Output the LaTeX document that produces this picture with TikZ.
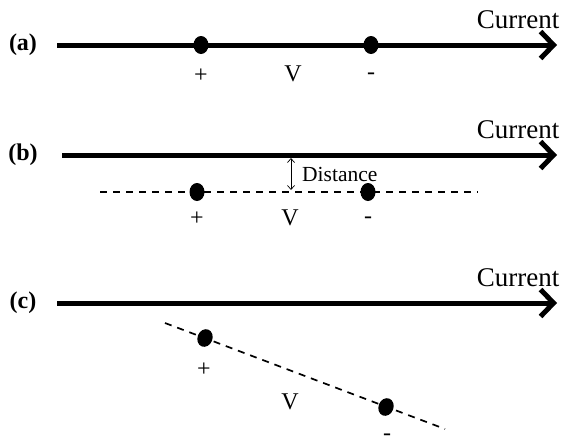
\documentclass[tikz,border=0pt]{standalone}
\usepackage{fontspec}
\setmainfont{Liberation Serif}
\usepackage{tikz}
\usetikzlibrary{arrows.meta,shapes.geometric,calc}

\tikzset{
  wire/.style={line width=5pt,-{Straight Barb[length=13pt,width=27pt,line width=5pt]}},
  probe/.style={ellipse,fill=black,minimum width=15pt,minimum height=18pt,inner sep=0pt},
  probeline/.style={line width=1.7pt,dash pattern=on 7pt off 6pt},
  tag/.style={font=\fontsize{24}{24}\selectfont,inner sep=0pt},
  panel/.style={font=\fontsize{24}{24}\selectfont\bfseries,inner sep=0pt},
  curlabel/.style={font=\fontsize{27}{27}\selectfont,inner sep=0pt}
}

\begin{document}
\begin{tikzpicture}[x=1pt,y=-1pt]
\useasboundingbox (0,0) rectangle (569,447);
% current carrying wires
\foreach \lab/\y/\x in {a/45/57,b/155/62,c/303/57}{
  \node[panel] (p\lab) at (23,\y) {(\lab)};
  \coordinate (s\lab) at (\x,\y);
  \coordinate (e\lab) at (557,\y);
  \draw[wire] (s\lab)--(e\lab);
  \node[curlabel] (cur\lab) at (518,\y-25) {Current};
}
% (a) probes on the wire
\node[probe] (plusa) at (201,45) {};
\node[probe] (minusa) at (371,45) {};
\node[tag] (ta1) at (201,76) {+};
\node[tag] (ta2) at (293,74) {V};
\node[tag] (ta3) at (371,76) {-};
% (b) probes parallel to the wire
\coordinate (lb) at (100,192); \coordinate (rb) at (478,192);
\draw[probeline] (lb)--(rb);
\node[probe] (plusb) at (197,192) {};
\node[probe] (minusb) at (368,192) {};
\node[tag] (tb1) at (197,219) {+};
\node[tag] (tb2) at (290,218) {V};
\node[tag] (tb3) at (368,220) {-};
\coordinate (dtop) at (291,158); \coordinate (dbot) at (291,190);
\draw[line width=0.7pt,{Straight Barb[length=4pt,width=7pt]}-{Straight Barb[length=4pt,width=7pt]}] (dtop)--(dbot);
\node[font=\fontsize{21.5}{21.5}\selectfont,anchor=west,inner sep=0pt] (dist) at (302,174) {Distance};
% (c) probes tilted
\coordinate (lc) at (165,323); \coordinate (rc) at (445,429);
\draw[probeline] (lc)--(rc);
\node[probe,rotate=-21] (plusc) at (205,338) {};
\node[probe,rotate=-21] (minusc) at (386,407) {};
\node[tag] (tc1) at (204,370) {+};
\node[tag] (tc2) at (290,402) {V};
\node[tag] (tc3) at (387,437) {-};
\end{tikzpicture}
\end{document}
